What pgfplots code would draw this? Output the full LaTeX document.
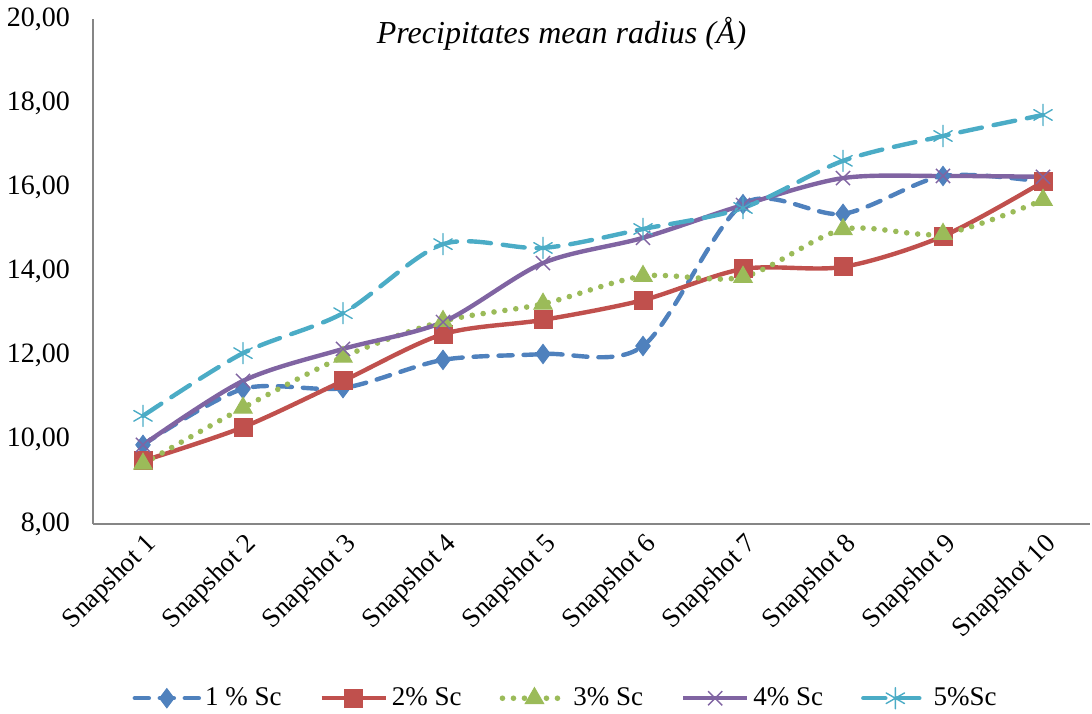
\documentclass[border=0pt]{standalone}
\usepackage{pgfplots}
\pgfplotsset{compat=1.18}
\usepackage{fontspec}
\setmainfont{Liberation Serif}

\definecolor{cBlue}{HTML}{4F81BD}
\definecolor{cRed}{HTML}{C0504D}
\definecolor{cGreen}{HTML}{9BBB59}
\definecolor{cPurple}{HTML}{8064A2}
\definecolor{cAqua}{HTML}{4BACC6}
\definecolor{axgray}{HTML}{868686}

\begin{document}
\begin{tikzpicture}
\begin{axis}[
  scale only axis,
  width=498.5pt, height=252.5pt,
  xmin=-0.5, xmax=9.47,
  ymin=8, ymax=20,
  ytick={8,10,...,20},
  xtick={0,...,9},
  xticklabels={Snapshot 1,Snapshot 2,Snapshot 3,Snapshot 4,Snapshot 5,Snapshot 6,Snapshot 7,Snapshot 8,Snapshot 9,Snapshot 10},
  xticklabel style={rotate=45, anchor=east, font=\fontsize{13.5}{15}\selectfont, xshift=1pt, yshift=-9pt},
  yticklabel style={font=\fontsize{14}{16}\selectfont, xshift=-8pt},
  /pgf/number format/.cd, fixed, fixed zerofill, precision=2, use comma, assume math mode=true,
  /pgfplots/.cd,
  major tick length=0pt,
  axis x line*=bottom, axis y line*=left,
  axis line style={axgray, line width=0.8pt, -},
  clip=false,
  legend style={at={(0.475,-0.345)}, anchor=center, draw=none, legend columns=5,
    font=\fontsize{13.5}{15}\selectfont,
    /tikz/every even column/.append style={column sep=17pt}},
  legend image code/.code={
    \draw[mark repeat=2, mark phase=2] plot coordinates {(0pt,0pt) (16pt,0pt) (32pt,0pt)};},
  every axis plot/.append style={line width=2.2pt, smooth, tension=0.5},
]
\addplot[cBlue, dash pattern=on 7pt off 5.5pt, line cap=round, mark=diamond*, mark size=4.8pt,
  mark options={solid, fill=cBlue, draw=cBlue, line width=0.5pt}]
  coordinates {(0,9.88) (1,11.21) (2,11.23) (3,11.90) (4,12.04) (5,12.23) (6,15.60) (7,15.37) (8,16.27) (9,16.13)};
\addlegendentry{1 \% Sc}
\addplot[cRed, mark=square*, mark size=4.5pt,
  mark options={solid, fill=cRed, draw=cRed, line width=0.5pt}]
  coordinates {(0,9.50) (1,10.30) (2,11.40) (3,12.51) (4,12.85) (5,13.32) (6,14.06) (7,14.11) (8,14.84) (9,16.13)};
\addlegendentry{2\% Sc}
\addplot[cGreen, dash pattern=on 0pt off 5.5pt, line cap=round, line width=2.8pt, mark=triangle*, mark size=5.3pt,
  mark options={solid, fill=cGreen, draw=cGreen, line width=0.5pt}]
  coordinates {(0,9.43) (1,10.76) (2,11.97) (3,12.82) (4,13.23) (5,13.89) (6,13.87) (7,15.00) (8,14.89) (9,15.70)};
\addlegendentry{3\% Sc}
\addplot[cPurple, mark=x, mark size=5pt,
  mark options={solid, draw=cPurple, line width=0.7pt}]
  coordinates {(0,9.88) (1,11.40) (2,12.16) (3,12.80) (4,14.20) (5,14.80) (6,15.58) (7,16.22) (8,16.27) (9,16.25)};
\addlegendentry{4\% Sc}
\addplot[cAqua, dash pattern=on 11pt off 6pt, line cap=round, mark=asterisk, mark size=5.3pt,
  mark options={solid, draw=cAqua, line width=0.7pt}]
  coordinates {(0,10.57) (1,12.06) (2,13.01) (3,14.65) (4,14.56) (5,15.01) (6,15.51) (7,16.63) (8,17.22) (9,17.72)};
\addlegendentry{5\%Sc}
\node[font=\itshape\fontsize{16}{18}\selectfont] at (rel axis cs:0.47,0.97) {Precipitates mean radius (Å)};
\end{axis}
\pgfresetboundingbox
\path (current axis.south west) ++(-46.5pt,-94.5pt) rectangle ++(546pt,356.5pt);
\end{tikzpicture}
\end{document}
